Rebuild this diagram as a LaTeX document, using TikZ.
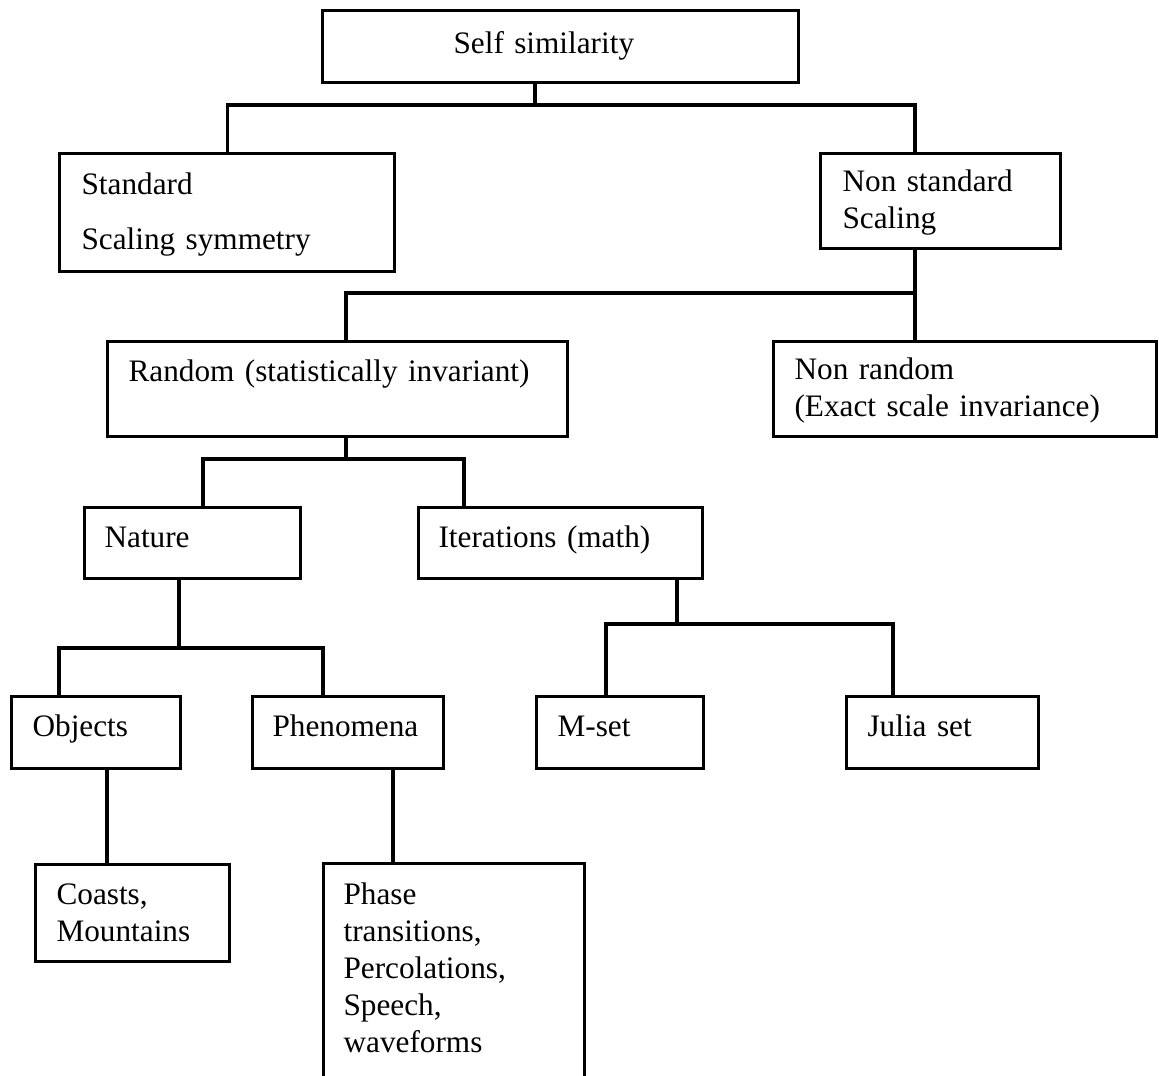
\documentclass[tikz,border=0pt]{standalone}
\usepackage{fontspec}
\setmainfont{Liberation Serif}
\usepackage{tikz}
\usetikzlibrary{positioning}

\begin{document}
\begin{tikzpicture}[
  x=0.384pt, y=-0.384pt,
  line width=1.2pt,
  font=\fontsize{12pt}{14.2pt}\selectfont,
  blk/.style n args={4}{draw, rectangle, anchor=north west, align=left,
    inner ysep=0pt, inner xsep={#2*0.384pt},
    text width={(#1-2*#2)*0.384pt},
    text height={#3*0.384pt}, text depth={#4*0.384pt}},
  ]
  \useasboundingbox (0,0) rectangle (1159,1076);
  \node[blk={476}{131}{43}{29}] (self) at (321,9) {Self similarity};
  \node[blk={335}{22}{41}{77}] (std) at (58,152) {Standard\\[7pt]Scaling symmetry};
  \node[blk={240}{22}{38}{57}] (nonstd) at (819,152) {Non standard\\Scaling};
  \node[blk={460}{21}{40}{55}] (random) at (106,340) {Random (statistically invariant)};
  \node[blk={383}{21}{38}{57}] (nonrandom) at (772,340) {Non random\\(Exact scale invariance)};
  \node[blk={216}{20}{40}{31}] (nature) at (83,506) {Nature};
  \node[blk={284}{20}{40}{31}] (iter) at (417,506) {Iterations (math)};
  \node[blk={169}{21}{40}{32}] (objects) at (10,695) {Objects};
  \node[blk={191}{20}{40}{32}] (phenom) at (251,695) {Phenomena};
  \node[blk={167}{21}{40}{32}] (mset) at (535,695) {M-set};
  \node[blk={192}{21}{40}{32}] (julia) at (845,695) {Julia set};
  \node[blk={194}{21}{40}{57}] (coasts) at (34,863) {Coasts,\\Mountains};
  \node[blk={261}{20}{41}{200}] (phase) at (322,862)
    {Phase\\transitions,\\Percolations,\\Speech,\\waveforms};

  \coordinate (j1) at (535,105);
  \coordinate (j2) at (915,293);
  \coordinate (j3) at (346,459);
  \coordinate (j3a) at (203,459);
  \coordinate (j3b) at (464,459);
  \coordinate (j4) at (179,648);
  \coordinate (j4a) at (59,648);
  \coordinate (j4b) at (323,648);
  \coordinate (j5) at (677,624);
  \coordinate (j5a) at (606,624);
  \coordinate (j5b) at (893,624);
  \coordinate (k1) at (107,810);
  \coordinate (k2) at (393,810);

  \draw (self.south -| j1) -- (j1);
  \draw (std.north) |- (j1) -| (nonstd.north -| j2);
  \draw (nonstd.south -| j2) -- (nonrandom.north -| j2);
  \draw (random.north -| j3) |- (j2);
  \draw (random.south -| j3) -- (j3);
  \draw (nature.north -| j3a) -- (j3a) -- (j3b) -- (iter.north -| j3b);
  \draw (nature.south -| j4) -- (j4);
  \draw (objects.north -| j4a) -- (j4a) -- (j4b) -- (phenom.north -| j4b);
  \draw (iter.south -| j5) -- (j5);
  \draw (mset.north -| j5a) -- (j5a) -- (j5b) -- (julia.north -| j5b);
  \draw (objects.south -| k1) -- (coasts.north -| k1);
  \draw (phenom.south -| k2) -- (phase.north -| k2);
\end{tikzpicture}
\end{document}
